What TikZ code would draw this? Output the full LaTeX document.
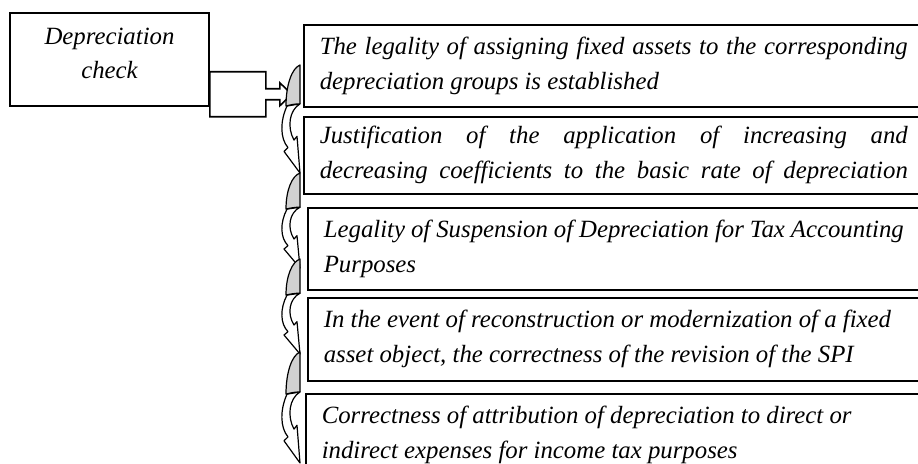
\documentclass[tikz,border=0pt]{standalone}
\usepackage{fontspec}
\setmainfont{Liberation Serif}
\usetikzlibrary{calc}

\newcommand{\fullline}[2][294pt]{\makebox[#1][s]{#2}}

\begin{document}
\begin{tikzpicture}[x=0.5pt, y=-0.5pt,
    box/.style={draw, line width=0.8pt, rectangle, font=\fontsize{12.4}{17.5}\selectfont\itshape,
        execute at begin node={\spaceskip=0pt\xspaceskip=0pt\relax}},
    itembox/.style={box, anchor=north west, text width=320pt, inner xsep=8pt, inner ysep=0pt, align=left, minimum height=#1},
    curlbody/.style={draw, fill=white, line width=0.6pt, line join=round},
    curlback/.style={draw, fill=gray!35, line width=0.6pt, line join=round}]
    \useasboundingbox (0,0) rectangle (918,464);
    \clip (0,0) rectangle (918,464);

    \node[box, minimum width=99.5pt, minimum height=46.5pt] (check) at (109.5,59.5) {};
    \node[font=\fontsize{12.4}{17}\selectfont\itshape, align=center] (checktext) at ([yshift=3pt]check.center) {Depreciation\\check};

    \node[itembox=41pt] (item1) at (303,24) {\fullline{The legality of assigning fixed assets to the corresponding}\\depreciation groups is established};
    \node[itembox=38.5pt] (item2) at (303,116) {\fullline{Justification of the application of increasing and}\\\fullline{decreasing coefficients to the basic rate of depreciation}};
    \node[itembox=41pt] (item3) at (307,207) {\fullline[290pt]{Legality of Suspension of Depreciation for Tax Accounting}\\Purposes};
    \node[itembox=41.5pt] (item4) at (307,297) {In the event of reconstruction or modernization of a fixed\\asset object, the correctness of the revision of the SPI};
    \node[itembox=41pt] (item5) at (305,393) {Correctness of attribution of depreciation to direct or\\indirect expenses for income tax purposes};

    % block arrow out of the check box
    \draw[line width=0.8pt, fill=white] ($(check.south east)+(0,-35)$) -- ++(56,0) -- ++(0,17) -- ++(14,0) -- ++(0,-6)
        -- ++(12,11.5) -- ++(-12,11.5) -- ++(0,-6) -- ++(-14,0) -- ++(0,17) -- ++(-56,0) -- cycle;

    % curved arrows down the list
    \foreach \ya/\yb in {65/173,173/268,259/354,352/463}{
        \pgfmathsetmacro{\h}{\yb-\ya}
        \draw[curlbody] (287,{\ya+0.38*\h}) .. controls (280,{\ya+0.52*\h}) and (280,{\ya+0.68*\h}) .. (288,{\ya+0.765*\h})
            -- (284,{\ya+0.80*\h}) -- (300,\yb) -- (297,{\ya+0.66*\h}) -- (294,{\ya+0.695*\h})
            .. controls (287,{\ya+0.58*\h}) and (289,{\ya+0.42*\h}) .. (300,{\ya+0.36*\h}) -- cycle;
        \draw[curlback] (300,\ya) -- (300,{\ya+0.36*\h}) .. controls (294,{\ya+0.36*\h}) and (290,{\ya+0.37*\h}) .. (286,{\ya+0.38*\h})
            .. controls (286,{\ya+0.18*\h}) and (292,{\ya+0.03*\h}) .. (300,\ya) -- cycle;
    }
\end{tikzpicture}
\end{document}
